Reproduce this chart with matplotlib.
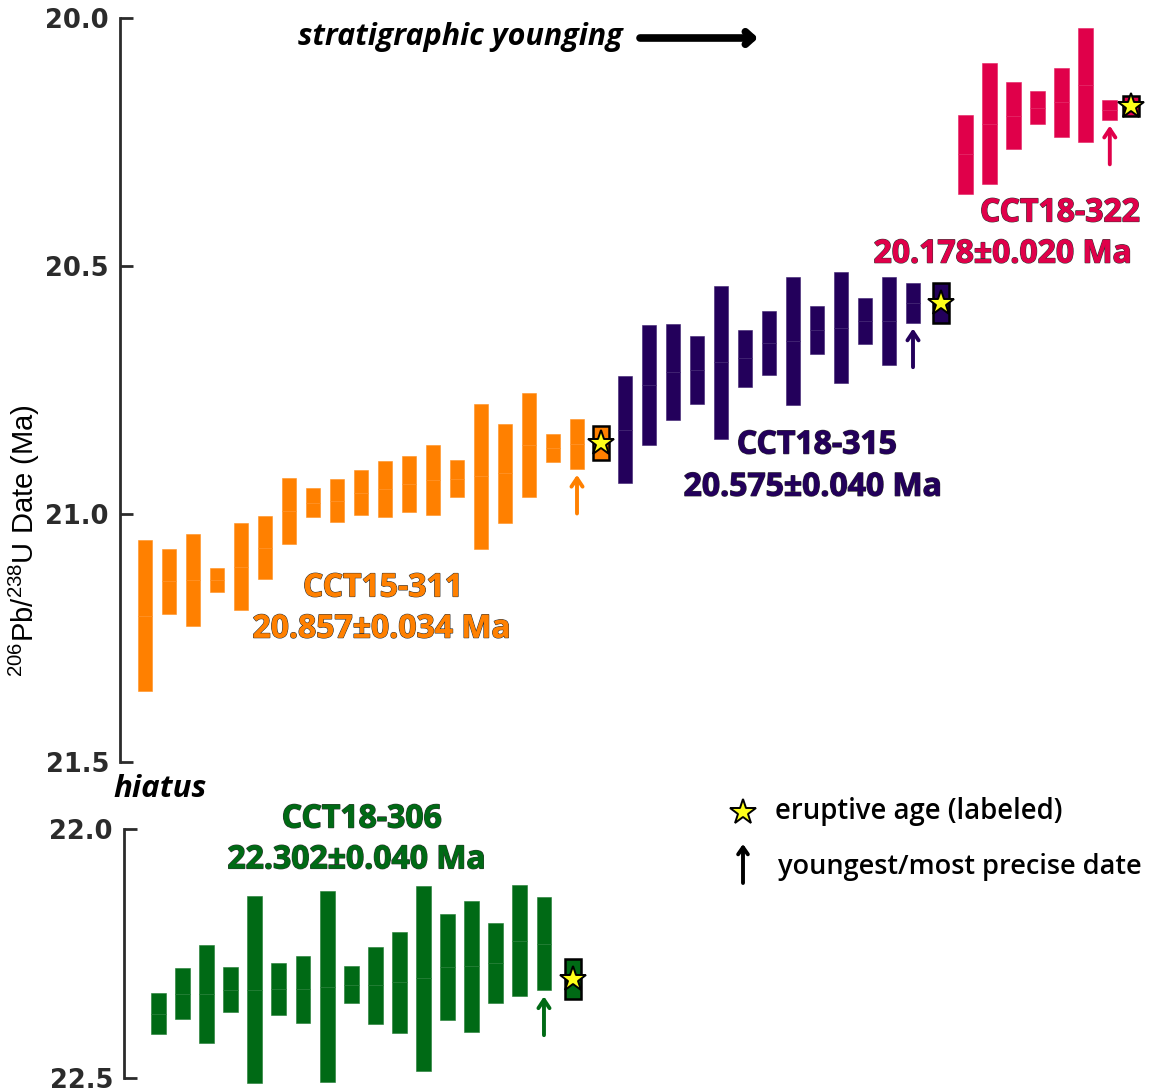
import numpy as np
import matplotlib
matplotlib.use("Agg")
import matplotlib.pyplot as plt
from matplotlib.patches import Rectangle
import matplotlib.patheffects as pe

plt.rcParams['font.family'] = ['Open Sans', 'DejaVu Sans']
plt.rcParams['mathtext.default'] = 'regular'

# single-grain dates (Ma) and 2-sigma uncertainties, in stratigraphic order
cct15_311 = [21.205, 21.136, 21.133, 21.133, 21.106, 21.068, 20.994, 20.977, 20.973,
             20.957, 20.950, 20.940, 20.932, 20.929, 20.924, 20.918, 20.861, 20.867, 20.859]
cct15_311_err = [0.152, 0.066, 0.092, 0.025, 0.088, 0.064, 0.066, 0.029, 0.044,
                 0.046, 0.057, 0.056, 0.071, 0.037, 0.146, 0.100, 0.104, 0.028, 0.050]

cct18_315 = [20.830, 20.739, 20.713, 20.710, 20.694, 20.686, 20.655, 20.652, 20.629,
             20.624, 20.611, 20.611, 20.574]
cct18_315_err = [0.108, 0.121, 0.097, 0.069, 0.154, 0.057, 0.064, 0.129, 0.048,
                 0.112, 0.047, 0.088, 0.040]

cct18_322 = [20.275, 20.213, 20.197, 20.181, 20.170, 20.136, 20.185]
cct18_322_err = [0.080, 0.122, 0.068, 0.033, 0.069, 0.115, 0.020]

cct18_306 = [22.371, 22.331, 22.331, 22.323, 22.323, 22.322, 22.322, 22.317, 22.313,
             22.314, 22.308, 22.300, 22.277, 22.276, 22.269, 22.224, 22.230]
cct18_306_err = [0.041, 0.051, 0.099, 0.045, 0.188, 0.052, 0.067, 0.192, 0.037,
                 0.077, 0.101, 0.185, 0.106, 0.132, 0.080, 0.111, 0.094]

# eruptive ages (weighted means)
names = ['CCT15-311', 'CCT18-315', 'CCT18-322', 'CCT18-306']
erupt_age = [20.857, 20.575, 20.178, 22.302]
erupt_err = [0.034, 0.040, 0.020, 0.040]

# analysis positions
x_311 = np.arange(1, 20)
x_315 = np.arange(21, 34)
x_322 = np.arange(35.2, 42)
x_306 = 1.56 + np.arange(17) * 1.004
star_x = [20, 34.15, 42.1, 18.83]
youngest = [18, 12, 6, 16]  # index of youngest/most precise grain

c_orange = '#ff8000'
c_purple = '#23005b'
c_red = '#e0004a'
c_green = '#006a15'


def lighten(c, f=0.12):
    rgb = np.array(matplotlib.colors.to_rgb(c))
    return tuple(rgb + (1 - rgb) * f)


def draw_sample(ax, xs, vals, errs, color, sx, age, aerr, iyoung):
    w = 0.62
    for x, v, e in zip(xs, vals, errs):
        for lo in (v - e, v):
            ax.add_patch(Rectangle((x - w / 2, lo), w, e, facecolor=color,
                                   edgecolor=lighten(color), lw=0.4, clip_on=False))
    # eruptive age box + star
    ax.add_patch(Rectangle((sx - 0.33, age - aerr), 0.66, 2 * aerr, facecolor=color,
                           edgecolor='black', lw=1.8, clip_on=False, zorder=3))
    ax.plot(sx, age, marker='*', ms=19, mfc='#ffff1a', mec='black', mew=1.4,
            clip_on=False, zorder=4)
    # arrow under the youngest grain
    xb = xs[iyoung]
    bot = vals[iyoung] + errs[iyoung]
    ax.annotate('', xy=(xb, bot + 0.012), xytext=(xb, bot + 0.09),
                arrowprops=dict(arrowstyle='->,head_length=0.6,head_width=0.4',
                                color=color, lw=2.8, shrinkA=0, shrinkB=0))


def label(ax, x, y, text, color):
    ax.text(x, y, text, color=color, fontsize=23, fontweight='bold', ha='center',
            va='center',
            path_effects=[pe.withStroke(linewidth=1.0, foreground='#333333'), pe.Normal()])


fig = plt.figure(figsize=(11.53, 10.9), dpi=100)
W, H = 1153, 1090
xmin = -0.0417
spx = 24.0

ax = fig.add_axes([120 / W, 1 - 762 / H, 1033 / W, 744 / H])
axb = fig.add_axes([124 / W, 1 - 1078 / H, 1029 / W, 249 / H])

ax.set_xlim(xmin, xmin + 1033 / spx)
ax.set_ylim(21.5, 20.0)
axb.set_xlim(xmin + 4 / spx, xmin + 1033 / spx)
axb.set_ylim(22.5, 22.0)

for a, ticks in ((ax, [20.0, 20.5, 21.0, 21.5]), (axb, [22.0, 22.5])):
    for s in ('top', 'right', 'bottom'):
        a.spines[s].set_visible(False)
    a.spines['left'].set_linewidth(2)
    a.spines['left'].set_color('#2b2b2b')
    a.set_xticks([])
    a.set_yticks(ticks)
    a.set_yticklabels([f'{t:.1f}' for t in ticks], family='DejaVu Sans',
                      fontweight='bold', fontsize=18.5, color='#2b2b2b')
    a.tick_params(axis='y', direction='in', length=9, width=2, color='#2b2b2b', pad=8)
    a.patch.set_alpha(0)

draw_sample(ax, x_311, cct15_311, cct15_311_err, c_orange, star_x[0], erupt_age[0], erupt_err[0], youngest[0])
draw_sample(ax, x_315, cct18_315, cct18_315_err, c_purple, star_x[1], erupt_age[1], erupt_err[1], youngest[1])
draw_sample(ax, x_322, cct18_322, cct18_322_err, c_red, star_x[2], erupt_age[2], erupt_err[2], youngest[2])
draw_sample(axb, x_306, cct18_306, cct18_306_err, c_green, star_x[3], erupt_age[3], erupt_err[3], youngest[3])

label(ax, 10.92, 21.149, names[0], c_orange)
label(ax, 10.87, 21.232, f'{erupt_age[0]:.3f}±{erupt_err[0]:.3f} Ma', c_orange)
label(ax, 29.0, 20.861, names[1], c_purple)
label(ax, 28.83, 20.946, f'{erupt_age[1]:.3f}±{erupt_err[1]:.3f} Ma', c_purple)
label(ax, 39.13, 20.393, names[2], c_red)
label(ax, 36.75, 20.476, f'{erupt_age[2]:.3f}±{erupt_err[2]:.3f} Ma', c_red)
label(axb, 10.04, 21.980, names[3], c_green)
label(axb, 9.83, 22.062, f'{erupt_age[3]:.3f}±{erupt_err[3]:.3f} Ma', c_green)

ax.set_ylabel(r'$^{206}$Pb/$^{238}$U Date (Ma)', family='Liberation Sans', fontsize=21)
ax.yaxis.set_label_coords(-78 / 1033, (762 - 541) / 744)

# top annotation
fig.text(623 / W, 1 - 37 / H, 'stratigraphic younging', ha='right', va='center',
         fontsize=22, fontweight='bold', style='italic')
ax.annotate('', xy=(758, H - 38), xytext=(640, H - 38), xycoords='figure pixels',
            textcoords='figure pixels',
            arrowprops=dict(arrowstyle='->,head_length=0.5,head_width=0.45', color='black',
                            lw=5.5, shrinkA=0, shrinkB=0))

fig.text(113 / W, 1 - 789 / H, 'hiatus', ha='left', va='center', fontsize=22.5,
         fontweight='bold', style='italic')

# key
ax.plot(743 / W, 1 - 812 / H, marker='*', ms=19, mfc='#ffff1a', mec='black', mew=1.4,
        transform=fig.transFigure, clip_on=False)
fig.text(775 / W, 1 - 812 / H, 'eruptive age (labeled)', ha='left', va='center',
         fontsize=19.8, fontweight='semibold')
ax.annotate('', xy=(743, H - 844), xytext=(743, H - 883), xycoords='figure pixels',
            textcoords='figure pixels',
            arrowprops=dict(arrowstyle='->,head_length=0.5,head_width=0.35', color='black',
                            lw=2.8, shrinkA=0, shrinkB=0))
fig.text(778 / W, 1 - 867 / H, 'youngest/most precise date', ha='left', va='center',
         fontsize=19.5, fontweight='semibold')

fig.savefig('out.png', dpi=100)
